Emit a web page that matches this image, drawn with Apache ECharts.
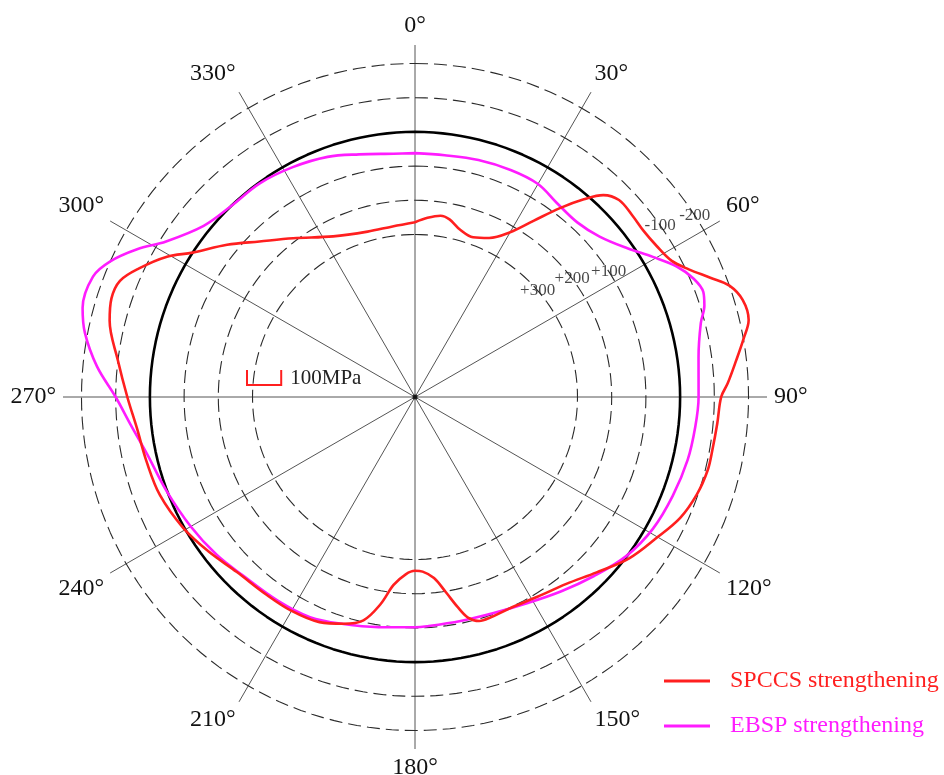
<!DOCTYPE html>
<html>
<head>
<meta charset="utf-8">
<script src="https://cdn.jsdelivr.net/npm/echarts@6/dist/echarts.min.js"></script>
<style>
  html, body { margin: 0; padding: 0; background: #fff; }
  #chart { width: 944px; height: 775px; }
</style>
</head>
<body>
<div id="chart"></div>
<script>
// Residual stress around the hole edge (MPa), angle measured clockwise from 0° at top.
const spccsAngle = [0, 4, 8, 11, 15, 20, 25, 30, 34, 37.5, 40.5, 43, 46, 50, 54, 58, 62, 65, 68, 70.5, 73.5, 77, 80, 83.5, 87.5, 90,
  95, 100, 104, 109, 114.5, 120, 127, 134, 141, 148.5, 156, 161, 164, 166.5, 168.5, 171, 174, 177.5, 180,
  183, 186.5, 189.5, 193, 197.5, 203, 210, 217, 225.5, 233, 240.5, 249, 256.4, 263.6, 270,
  277, 284, 288, 291.5, 295, 299.5, 303, 309, 315, 322.5, 333, 344, 352.5, 360];
const spccsStress = [264, 250, 240, 246, 268, 278, 262, 219, 153, 79, 15, -32, -54, -53, -51, -58, -74, -108, -156, -200, -224, -226, -200, -170, -140, -120,
  -112, -108, -107, -97, -77, -44, -9, 37, 72, 90, 98, 94, 94, 112, 148, 197, 243, 264, 267,
  256, 222, 160, 105, 80, 60, 53, 52, 45, 22, -3, -24, -32, -43, -66,
  -100, -145, -158, -152, -115, -58, 0, 68, 132, 190, 248, 272, 272, 264];

const ebspAngle = [0, 7, 15, 23, 30, 36, 43, 49, 55, 59.5, 63.5, 67, 70, 72.5, 75.5, 82, 90,
  96, 103, 111, 119, 127, 135, 143, 151.5, 160, 168.5, 177, 180,
  189, 197.5, 205.5, 214, 224, 231.5, 240, 249.5, 257.8, 264.4, 270,
  275.5, 281, 285, 290.5, 294, 298, 302, 309, 316, 324, 332, 340, 347, 355, 360];
const ebspStress = [62, 63, 58, 55, 56, 72, 78, 60, 17, -32, -80, -110, -122, -112, -88, -62, -54,
  -49, -43, -32, -20, 2, 35, 64, 89, 103, 107, 104, 102,
  94, 79, 62, 57, 50, 34, 18, -2, -25, -60, -100,
  -159, -208, -231, -230, -200, -145, -83, -20, 0, 3, 14, 28, 47, 61, 62];

// Reference rings (MPa) and their tags
const ringValues = [-200, -100, 100, 200, 300];
const ringTagText = ['-200', '-100', '+100', '+200', '+300'];
const ringTagAngle = [57, 55, 57, 53, 49];
const zeroRing = 0;

// Angle axis ticks (degrees)
const angleTicks = [0, 30, 60, 90, 120, 150, 180, 210, 240, 270, 300, 330];

// Radial stress scale: tensile (+) toward the centre
const R_MIN = -254;
const R_MAX = 775;
const POLAR_R = 352;
const CENTER = [415, 397];

const serif = 'Liberation Serif';

function pairs(stress, angle) {
  return stress.map((s, i) => [s, angle[i]]);
}
function ring(value) {
  const pts = [];
  for (let a = 0; a <= 360; a += 2) pts.push([value, a]);
  return pts;
}

const chart = echarts.init(document.getElementById('chart'), null, { renderer: 'canvas' });

const series = [];
ringValues.forEach(v => {
  series.push({
    type: 'line', coordinateSystem: 'polar', data: ring(v), symbol: 'none', silent: true,
    lineStyle: { color: '#2a2a2a', width: 1.1, type: [13, 6] }, z: 1
  });
});
series.push({
  type: 'line', coordinateSystem: 'polar', data: ring(zeroRing), symbol: 'none', silent: true,
  lineStyle: { color: '#000', width: 2.6 }, z: 2
});
series.push({
  name: 'EBSP strengthening', type: 'line', coordinateSystem: 'polar',
  data: pairs(ebspStress, ebspAngle), smooth: 0.35, symbol: 'none',
  lineStyle: { color: '#ff1cff', width: 2.6 }, itemStyle: { color: '#ff1cff' }, z: 3
});
series.push({
  name: 'SPCCS strengthening', type: 'line', coordinateSystem: 'polar',
  data: pairs(spccsStress, spccsAngle), smooth: 0.35, symbol: 'none',
  lineStyle: { color: '#ff1f1f', width: 2.6 }, itemStyle: { color: '#ff1f1f' }, z: 4
});
series.push({
  type: 'scatter', coordinateSystem: 'polar', symbolSize: 0, silent: true,
  data: ringValues.map((v, i) => [v, ringTagAngle[i]]),
  label: {
    show: true, position: 'inside', color: '#1a1a1a', fontFamily: serif, fontSize: 17,
    formatter: p => ringTagText[p.dataIndex]
  }, z: 5
});
series.push({
  type: 'scatter', coordinateSystem: 'polar', symbolSize: 5, silent: true,
  data: [[R_MAX, 0]], itemStyle: { color: '#000' }, z: 5
});

const pxPer100 = POLAR_R * 100 / (R_MAX - R_MIN);
const barX = 247, barY = 385;

chart.setOption({
  animation: false,
  backgroundColor: '#fff',
  polar: { center: CENTER, radius: POLAR_R },
  angleAxis: {
    type: 'value', min: 0, max: 360, interval: 30, startAngle: 90, clockwise: true,
    axisLine: { show: false }, axisTick: { show: false },
    splitLine: { show: true, lineStyle: { color: '#555', width: 1 } },
    axisLabel: {
      margin: 7, color: '#111', fontFamily: serif, fontSize: 24,
      formatter: v => (angleTicks.indexOf(v) >= 0 ? v + '°' : '')
    }
  },
  radiusAxis: {
    type: 'value', min: R_MIN, max: R_MAX, inverse: true,
    axisLine: { show: false }, axisTick: { show: false }, axisLabel: { show: false },
    splitLine: { show: false }
  },
  legend: {
    orient: 'vertical', left: 659, top: 664, itemWidth: 46, itemHeight: 3, itemGap: 21,
    icon: 'rect',
    data: [
      { name: 'SPCCS strengthening', textStyle: { color: '#ff1f1f' } },
      { name: 'EBSP strengthening', textStyle: { color: '#ff1cff' } }
    ],
    textStyle: { fontFamily: serif, fontSize: 24, padding: [0, 0, 0, 15] }
  },
  graphic: [
    {
      type: 'polyline', silent: true,
      shape: { points: [[barX, barY - 15], [barX, barY], [barX + pxPer100, barY], [barX + pxPer100, barY - 15]] },
      style: { stroke: '#ff1f1f', lineWidth: 2, fill: null }
    },
    {
      type: 'text', silent: true, x: barX + pxPer100 + 9, y: barY - 7,
      style: { text: '100MPa', font: '21px "Liberation Serif"', fill: '#222', verticalAlign: 'middle' }
    }
  ],
  series: series
});
</script>
</body>
</html>
